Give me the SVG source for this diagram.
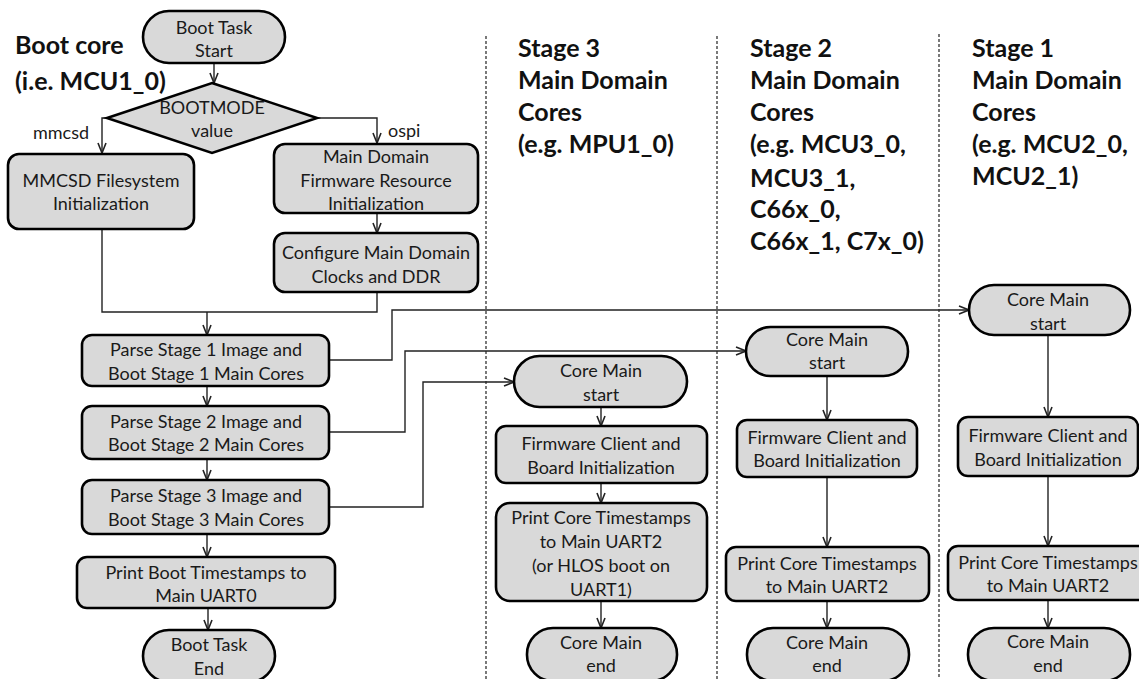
<svg xmlns="http://www.w3.org/2000/svg" width="1139" height="679" viewBox="0 0 1139 679">
<defs>
<style>
.box{fill:#d9d9d9;stroke:#000;stroke-width:2.6}
.t{font-family:Lato,"Liberation Sans",sans-serif;font-size:18px;fill:#1a1a1a;text-anchor:middle;dominant-baseline:central}
.lbl{font-family:Lato,"Liberation Sans",sans-serif;font-size:18px;fill:#1a1a1a;dominant-baseline:central}
.h{font-family:Lato,"Liberation Sans",sans-serif;font-size:25px;font-weight:bold;fill:#111;dominant-baseline:central}
.c{fill:none;stroke:#222;stroke-width:1.4}
.ca{fill:none;stroke:#222;stroke-width:1.4;marker-end:url(#ah)}
.sep{fill:none;stroke:#222;stroke-width:1.2;stroke-dasharray:3,2}
</style>
<marker id="ah" viewBox="0 0 12 10" refX="11" refY="5" markerWidth="12" markerHeight="10" markerUnits="userSpaceOnUse" orient="auto">
<path d="M1,1 L11,5 L1,9" fill="none" stroke="#222" stroke-width="1.6"/>
</marker>
</defs>
<rect width="1139" height="679" fill="#fff"/>

<g id="separators">
<line class="sep" x1="486" y1="36" x2="486" y2="679"/>
<line class="sep" x1="717" y1="36" x2="717" y2="679"/>
<line class="sep" x1="939" y1="34" x2="939" y2="679"/>
</g>

<g id="headers">
<text class="h" x="15" y="44">Boot core</text>
<text class="h" x="15" y="80">(i.e. MCU1_0)</text>
<text class="h" x="518" y="47">Stage 3</text>
<text class="h" x="518" y="79">Main Domain</text>
<text class="h" x="518" y="111">Cores</text>
<text class="h" x="518" y="143">(e.g. MPU1_0)</text>
<text class="h" x="750" y="47">Stage 2</text>
<text class="h" x="750" y="79">Main Domain</text>
<text class="h" x="750" y="111">Cores</text>
<text class="h" x="750" y="143">(e.g. MCU3_0,</text>
<text class="h" x="750" y="177">MCU3_1,</text>
<text class="h" x="750" y="208">C66x_0,</text>
<text class="h" x="750" y="240">C66x_1, C7x_0)</text>
<text class="h" x="972" y="47">Stage 1</text>
<text class="h" x="972" y="79">Main Domain</text>
<text class="h" x="972" y="111">Cores</text>
<text class="h" x="972" y="143">(e.g. MCU2_0,</text>
<text class="h" x="972" y="175">MCU2_1)</text>
</g>

<g id="connectors">
<path class="ca" d="M214,63 V83"/>
<path class="ca" d="M107,118 H102 V153"/>
<path class="ca" d="M317,118 H377 V143"/>
<path class="ca" d="M377,213 V233"/>
<path class="c" d="M102,229 V312 H377 V292"/>
<path class="ca" d="M207,312 V335"/>
<path class="ca" d="M207,386 V406"/>
<path class="ca" d="M207,459 V480"/>
<path class="ca" d="M207,534 V557"/>
<path class="ca" d="M208,608 V630"/>
<path class="ca" d="M329,360 H392 V310 H969"/>
<path class="ca" d="M329,432 H405 V351 H746"/>
<path class="ca" d="M329,507 H423 V382 H514"/>
<path class="ca" d="M601,407 V426"/>
<path class="ca" d="M601,483 V503"/>
<path class="ca" d="M601,601 V628"/>
<path class="ca" d="M827,376 V420"/>
<path class="ca" d="M827,477 V547"/>
<path class="ca" d="M827,601 V628"/>
<path class="ca" d="M1048,335 V417"/>
<path class="ca" d="M1048,476 V546"/>
<path class="ca" d="M1048,600 V628"/>
<text class="lbl" x="33" y="132">mmcsd</text>
<text class="lbl" x="388" y="130">ospi</text>
</g>

<g id="boot-start">
<rect class="box" x="143" y="11" width="142" height="52" rx="26"/>
<text class="t" x="214" y="27">Boot Task</text>
<text class="t" x="214" y="50">Start</text>
</g>
<g id="bootmode">
<polygon class="box" points="212,83 317,118 212,153 107,118"/>
<text class="t" x="212" y="107">BOOTMODE</text>
<text class="t" x="212" y="130">value</text>
</g>
<g id="mmcsd-init">
<rect class="box" x="8" y="154" width="186" height="75" rx="11"/>
<text class="t" x="101" y="180">MMCSD Filesystem</text>
<text class="t" x="101" y="203">Initialization</text>
</g>
<g id="fw-resource-init">
<rect class="box" x="274" y="144" width="204" height="69" rx="11"/>
<text class="t" x="376" y="156">Main Domain</text>
<text class="t" x="376" y="180">Firmware Resource</text>
<text class="t" x="376" y="203">Initialization</text>
</g>
<g id="clocks-ddr">
<rect class="box" x="274" y="233" width="204" height="59" rx="11"/>
<text class="t" x="376" y="252">Configure Main Domain</text>
<text class="t" x="376" y="276">Clocks and DDR</text>
</g>
<g id="parse1">
<rect class="box" x="82" y="335" width="247" height="51" rx="10"/>
<text class="t" x="206" y="349">Parse Stage 1 Image and</text>
<text class="t" x="206" y="373">Boot Stage 1 Main Cores</text>
</g>
<g id="parse2">
<rect class="box" x="82" y="406" width="247" height="53" rx="10"/>
<text class="t" x="206" y="421">Parse Stage 2 Image and</text>
<text class="t" x="206" y="444">Boot Stage 2 Main Cores</text>
</g>
<g id="parse3">
<rect class="box" x="82" y="480" width="247" height="54" rx="10"/>
<text class="t" x="206" y="495">Parse Stage 3 Image and</text>
<text class="t" x="206" y="519">Boot Stage 3 Main Cores</text>
</g>
<g id="print-boot">
<rect class="box" x="77" y="557" width="258" height="51" rx="10"/>
<text class="t" x="206" y="572">Print Boot Timestamps to</text>
<text class="t" x="206" y="595">Main UART0</text>
</g>
<g id="boot-end">
<rect class="box" x="143" y="630" width="132" height="52" rx="26"/>
<text class="t" x="209" y="644">Boot Task</text>
<text class="t" x="209" y="668">End</text>
</g>

<g id="s3-start">
<rect class="box" x="514" y="356" width="173" height="51" rx="25.5"/>
<text class="t" x="601" y="370">Core Main</text>
<text class="t" x="601" y="394">start</text>
</g>
<g id="s3-fw">
<rect class="box" x="496" y="426" width="211" height="57" rx="10"/>
<text class="t" x="601" y="443">Firmware Client and</text>
<text class="t" x="601" y="467">Board Initialization</text>
</g>
<g id="s3-print">
<rect class="box" x="496" y="503" width="211" height="98" rx="14"/>
<text class="t" x="601" y="517">Print Core Timestamps</text>
<text class="t" x="601" y="541">to Main UART2</text>
<text class="t" x="601" y="565">(or HLOS boot on</text>
<text class="t" x="601" y="589">UART1)</text>
</g>
<g id="s3-end">
<rect class="box" x="527" y="628" width="150" height="53" rx="26"/>
<text class="t" x="601" y="642">Core Main</text>
<text class="t" x="601" y="665">end</text>
</g>

<g id="s2-start">
<rect class="box" x="746" y="327" width="162" height="49" rx="24.5"/>
<text class="t" x="827" y="339">Core Main</text>
<text class="t" x="827" y="362">start</text>
</g>
<g id="s2-fw">
<rect class="box" x="737" y="420" width="180" height="57" rx="10"/>
<text class="t" x="827" y="437">Firmware Client and</text>
<text class="t" x="827" y="460">Board Initialization</text>
</g>
<g id="s2-print">
<rect class="box" x="726" y="547" width="203" height="54" rx="10"/>
<text class="t" x="827" y="563">Print Core Timestamps</text>
<text class="t" x="827" y="586">to Main UART2</text>
</g>
<g id="s2-end">
<rect class="box" x="747" y="628" width="162" height="53" rx="26"/>
<text class="t" x="827" y="642">Core Main</text>
<text class="t" x="827" y="665">end</text>
</g>

<g id="s1-start">
<rect class="box" x="969" y="285" width="161" height="50" rx="25"/>
<text class="t" x="1048" y="299">Core Main</text>
<text class="t" x="1048" y="323">start</text>
</g>
<g id="s1-fw">
<rect class="box" x="958" y="417" width="180" height="59" rx="10"/>
<text class="t" x="1048" y="435">Firmware Client and</text>
<text class="t" x="1048" y="459">Board Initialization</text>
</g>
<g id="s1-print">
<rect class="box" x="948" y="546" width="200" height="54" rx="10"/>
<text class="t" x="1048" y="562">Print Core Timestamps</text>
<text class="t" x="1048" y="585">to Main UART2</text>
</g>
<g id="s1-end">
<rect class="box" x="968" y="628" width="162" height="53" rx="26"/>
<text class="t" x="1048" y="641">Core Main</text>
<text class="t" x="1048" y="665">end</text>
</g>
</svg>
